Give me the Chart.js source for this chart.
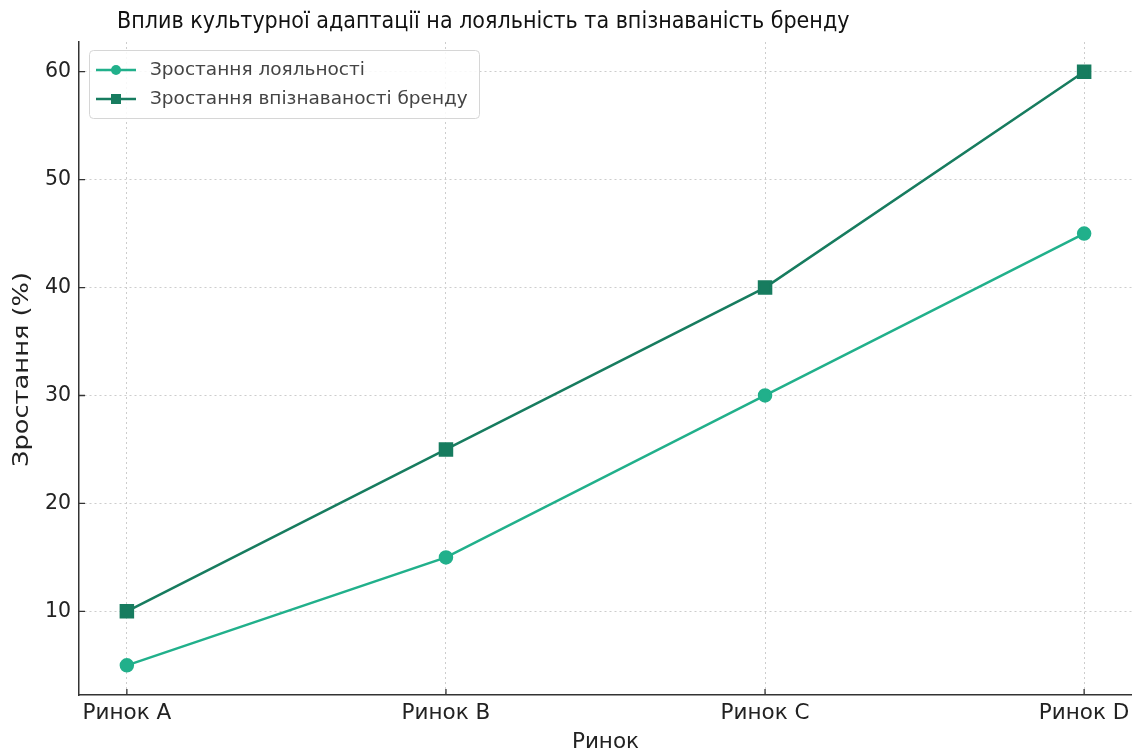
<!DOCTYPE html>
<html>
<head>
<meta charset="utf-8">
<script src="https://cdn.jsdelivr.net/npm/chart.js@4"></script>
<style>
html,body{margin:0;padding:0;background:#fff;}
#wrap{width:1132px;height:753px;position:relative;}
</style>
</head>
<body>
<div id="wrap"><canvas id="c" width="1132" height="753"></canvas></div>
<script>
const title = "Вплив культурної адаптації на лояльність та впізнаваність бренду";
const categories = ["Ринок A", "Ринок B", "Ринок C", "Ринок D"];
const loyaltyLabel = "Зростання лояльності";
const loyaltyValues = [5, 15, 30, 45];
const awarenessLabel = "Зростання впізнаваності бренду";
const awarenessValues = [10, 25, 40, 60];
const yTicks = [10, 20, 30, 40, 50, 60];
const xTitle = "Ринок";
const yTitle = "Зростання (%)";

const C1 = "#21b08b";
const C2 = "#177c5f";
const FONT = "'DejaVu Sans', sans-serif";

const extras = {
  id: 'extras',
  afterDraw(chart) {
    const ctx = chart.ctx;
    const a = chart.chartArea;
    const xs = chart.scales.x, ys = chart.scales.y;
    ctx.save();
    // inward tick marks
    ctx.strokeStyle = '#333';
    ctx.lineWidth = 1.3;
    ctx.beginPath();
    xs.ticks.forEach(t => {
      const px = xs.getPixelForValue(t.value);
      ctx.moveTo(px, a.bottom); ctx.lineTo(px, a.bottom - 6);
    });
    ys.ticks.forEach(t => {
      const py = ys.getPixelForValue(t.value);
      ctx.moveTo(a.left, py); ctx.lineTo(a.left + 6, py);
    });
    ctx.stroke();
    // title
    ctx.fillStyle = '#111';
    ctx.font = "23px 'Liberation Sans Narrow', 'DejaVu Sans Condensed', sans-serif";
    ctx.textBaseline = 'middle';
    ctx.textAlign = 'left';
    ctx.fillText(title, 117, 22);
    // y axis title
    ctx.save();
    ctx.font = "22px " + FONT;
    ctx.fillStyle = '#222';
    ctx.textAlign = 'center';
    ctx.translate(22, (272 + 467) / 2);
    ctx.rotate(-Math.PI / 2);
    const w = ctx.measureText(yTitle).width;
    ctx.scale(195 / w, 1);
    ctx.fillText(yTitle, 0, 0);
    ctx.restore();
    // legend
    const lx = 89, ly = 50, lw = 390, lh = 68;
    ctx.fillStyle = 'rgba(255,255,255,0.85)';
    ctx.strokeStyle = '#d6d6d6';
    ctx.lineWidth = 1;
    ctx.beginPath();
    if (ctx.roundRect) ctx.roundRect(lx + 0.5, ly + 0.5, lw, lh, 4); else ctx.rect(lx + 0.5, ly + 0.5, lw, lh);
    ctx.fill(); ctx.stroke();
    const items = chart.data.datasets;
    ctx.font = "18.5px " + FONT;
    ctx.textAlign = 'left';
    items.forEach((ds, i) => {
      const yy = ly + 20 + i * 29;
      ctx.strokeStyle = ds.borderColor;
      ctx.lineWidth = 2.5;
      ctx.beginPath(); ctx.moveTo(96, yy); ctx.lineTo(136, yy); ctx.stroke();
      ctx.fillStyle = ds.borderColor;
      if (ds.pointStyle === 'rect') {
        ctx.fillRect(116 - 5, yy - 5, 10, 10);
      } else {
        ctx.beginPath(); ctx.arc(116, yy, 5, 0, Math.PI * 2); ctx.fill();
      }
      ctx.fillStyle = '#444';
      ctx.fillText(ds.label, 150, yy);
    });
    ctx.restore();
  }
};

new Chart(document.getElementById('c'), {
  type: 'line',
  data: {
    datasets: [
      {
        label: loyaltyLabel,
        data: loyaltyValues.map((v, i) => ({x: i, y: v})),
        borderColor: C1, backgroundColor: C1,
        borderWidth: 2.5, pointStyle: 'circle', pointRadius: 6, pointHoverRadius: 6
      },
      {
        label: awarenessLabel,
        data: awarenessValues.map((v, i) => ({x: i, y: v})),
        borderColor: C2, backgroundColor: C2,
        borderWidth: 2.5, pointStyle: 'rect', pointRadius: 8.5, pointHoverRadius: 8.5
      }
    ]
  },
  options: {
    responsive: false,
    animation: false,
    events: [],
    layout: {autoPadding: false, padding: {top: 42, right: 0, left: 0, bottom: 0}},
    plugins: {legend: {display: false}, title: {display: false}, tooltip: {enabled: false}},
    scales: {
      x: {
        type: 'linear',
        min: -0.15, max: 3.15,
        afterBuildTicks(s) { s.ticks = categories.map((c, i) => ({value: i})); },
        afterFit(s) { s.height = 58; s.paddingLeft = 0; s.paddingRight = 0; },
        ticks: {
          callback: (v) => categories[v] ?? '',
          color: '#222', font: {family: FONT, size: 21.5}, padding: 6, maxRotation: 0, autoSkip: false
        },
        grid: {color: '#cdcdcd', lineWidth: 1, drawTicks: false},
        border: {display: true, color: '#333', width: 1.5, dash: [2, 3]},
        title: {display: true, text: xTitle, color: '#222', font: {family: FONT, size: 21.5}, padding: {top: 0, bottom: -2}}
      },
      y: {
        type: 'linear',
        min: 2.25, max: 62.75,
        afterBuildTicks(s) { s.ticks = yTicks.map(v => ({value: v})); },
        afterFit(s) { s.width = 79; s.paddingTop = 0; s.paddingBottom = 0; },
        ticks: {color: '#222', font: {family: FONT, size: 20.5}, padding: 8},
        grid: {color: '#cdcdcd', lineWidth: 1, drawTicks: false},
        border: {display: true, color: '#333', width: 1.5, dash: [2, 3]},
        title: {display: false}
      }
    }
  },
  plugins: [extras]
});
</script>
</body>
</html>
